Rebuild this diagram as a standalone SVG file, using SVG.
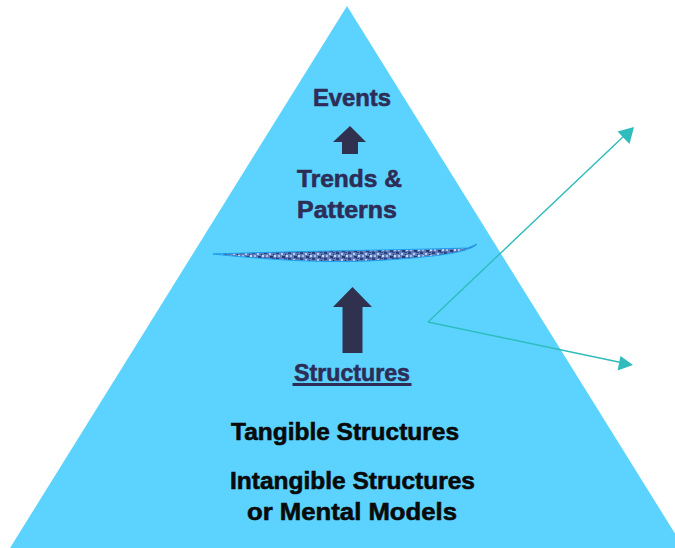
<svg xmlns="http://www.w3.org/2000/svg" width="675" height="548" viewBox="0 0 675 548">
<style>
.t{font-family:"Liberation Sans",Arial,sans-serif;font-weight:bold;font-size:24px;text-anchor:middle;stroke-width:0.6}
.navy{fill:#2d2d58;stroke:#2d2d58}
.blk{fill:#0a0a0a;stroke:#0a0a0a}
.arrow{fill:#30304f}
.conn{stroke:#2fbcbc;stroke-width:1.4;fill:none}
.head{fill:#2fbcbc}
</style>
<defs>
<pattern id="denim" x="0" y="0" width="12" height="6" patternUnits="userSpaceOnUse">
<rect width="12" height="6" fill="#5f7dbb"/>
<rect x="0" y="0" width="3" height="2" fill="#2f3f7e"/>
<rect x="5" y="1" width="2" height="2" fill="#b9cef0"/>
<rect x="8" y="0" width="3" height="1" fill="#3a4c8e"/>
<rect x="2" y="3" width="2" height="2" fill="#a7bfe8"/>
<rect x="6" y="4" width="3" height="2" fill="#2a3872"/>
<rect x="10" y="3" width="2" height="2" fill="#c6d8f4"/>
<rect x="0" y="5" width="2" height="1" fill="#4a5f9e"/>
<rect x="9" y="2" width="1" height="1" fill="#1f2c62"/>
</pattern>
</defs>
<rect width="675" height="548" fill="#ffffff"/>
<g id="pyramid">
<polygon points="347,6 10,548 684,548" fill="#5cd3fe"/>
</g>
<g id="divider">
<path d="M213,254 C300,251 400,250 468,248 L477,244 C470,252 440,256 400,259 C350,263 300,263 213,254 Z" fill="url(#denim)" stroke="#1d9ff0" stroke-width="1"/>
</g>
<g id="events">
<text class="t navy" x="352" y="106" textLength="78" lengthAdjust="spacingAndGlyphs">Events</text>
</g>
<g id="arrow-small">
<polygon class="arrow" points="350,126 366,142 358,142 358,154 342,154 342,142 333,142"/>
</g>
<g id="trends">
<text class="t navy" x="349.5" y="187" textLength="105" lengthAdjust="spacingAndGlyphs">Trends &amp;</text>
<text class="t navy" x="347" y="218" textLength="100" lengthAdjust="spacingAndGlyphs">Patterns</text>
</g>
<g id="arrow-big">
<polygon class="arrow" points="352.5,287 372,307 362.5,307 362.5,353 342.5,353 342.5,307 333,307"/>
</g>
<g id="structures">
<text class="t navy" x="352" y="381" textLength="116" lengthAdjust="spacingAndGlyphs">Structures</text>
<rect class="navy" x="293" y="383.5" width="118" height="2" stroke="none"/>
</g>
<g id="tangible">
<text class="t blk" x="345" y="440" textLength="228" lengthAdjust="spacingAndGlyphs">Tangible Structures</text>
</g>
<g id="intangible">
<text class="t blk" x="352.5" y="489" textLength="245" lengthAdjust="spacingAndGlyphs">Intangible Structures</text>
<text class="t blk" x="352" y="519.5" textLength="210" lengthAdjust="spacingAndGlyphs">or Mental Models</text>
</g>
<g id="connectors">
<path class="conn" d="M428,322 L625,135"/>
<polygon class="head" points="634,127 629.5,144 617.5,131.5"/>
<path class="conn" d="M428,322 L621,362.5"/>
<polygon class="head" points="633,365 617.5,370.5 620.5,356"/>
</g>
</svg>
